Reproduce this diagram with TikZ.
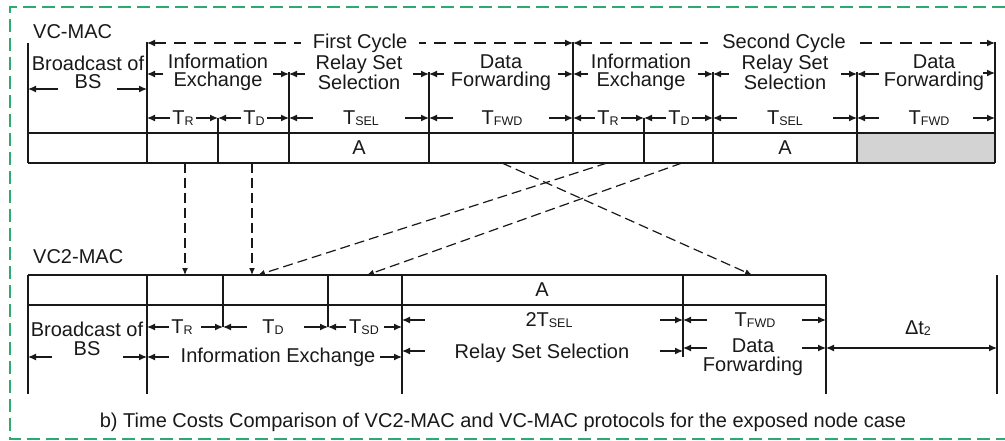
\documentclass[tikz,border=0pt]{standalone}
\usepackage{fontspec}
\setmainfont{Liberation Sans}
\usetikzlibrary{arrows.meta}
\definecolor{framegreen}{RGB}{46,170,110}
\definecolor{ink}{RGB}{25,25,25}
\definecolor{cellgray}{RGB}{211,211,211}
\newcommand\subcap[1]{\raisebox{-1.2pt}{\fontsize{12.5}{12.5}\selectfont #1}}
\newcommand\twoarrows[4]{%
  \draw[dimar] ({#1+#4},#3) -- (#1,#3);
  \draw[dimar] ({#2-#4},#3) -- (#2,#3);}
\begin{document}
\begin{tikzpicture}[x=1pt,y=-1pt,
  every node/.style={font=\fontsize{20}{18.5}\selectfont, text=ink, inner sep=0pt},
  tline/.style={line width=1.5pt, draw=ink},
  dimar/.style={line width=1.2pt, draw=ink, -{Latex[length=8pt,width=7pt]}},
  dimboth/.style={line width=1.2pt, draw=ink, {Latex[length=8pt,width=7pt]}-{Latex[length=8pt,width=7pt]}},
  cyc/.style={line width=1.2pt, draw=ink, dash pattern=on 12pt off 8pt, {Latex[length=8pt,width=7pt]}-{Latex[length=8pt,width=7pt]}},
  link/.style={line width=1.2pt, draw=ink, dash pattern=on 10pt off 5pt, -{Latex[length=7pt,width=6pt]}},
  lab/.style={align=center},
  blank/.style={fill=white, inner xsep=2pt, inner ysep=1pt}
]
\useasboundingbox (0,0) rectangle (1005,441);
\fill[white] (0,0) rectangle (1005,441);
% frame
\draw[framegreen, line width=2pt, dash pattern=on 13pt off 6pt] (1005,7) -- (10,7) -- (10,439) -- (1005,439);

% ===== VC-MAC =====
\node[anchor=west] (vcmac) at (33,32) {VC-MAC};
\fill[cellgray] (857,133) rectangle (995,163);
\draw[tline] (28,133) -- (995,133);
\draw[tline] (28,163) -- (995,163);
\foreach \x/\t in {28/43,147/42,218/118,289/72,429/72,573/42,644/118,713/72,857/72,995/42}
  \draw[tline] (\x,\t) -- (\x,163);
\node (a1) at (359,148) {A};
\node (a2) at (785,148) {A};

% cycles
\draw[cyc] (147,43) -- (573,43);
\node[blank, inner xsep=12pt] (fc) at (360,43) {First Cycle};
\draw[cyc] (573,43) -- (995,43);
\node[blank, inner xsep=14pt] (sc) at (784,43) {Second Cycle};

% phase labels
\node[lab] (bs1) at (88,72.5) {Broadcast of\\BS};
\twoarrows{28}{147}{89}{30}
\node[lab] (ie1) at (218,72.5) {Information\\Exchange};
\twoarrows{147}{289}{74}{16}
\node[lab] (rs1) at (359,72.5) {Relay Set\\Selection};
\twoarrows{289}{429}{74}{16}
\node[lab] (df1) at (501,72.5) {Data\\Forwarding};
\twoarrows{429}{573}{74}{15}
\node[lab] (ie2) at (641,72.5) {Information\\Exchange};
\twoarrows{573}{713}{74}{15}
\node[lab] (rs2) at (785,72.5) {Relay Set\\Selection};
\twoarrows{713}{857}{74}{16}
\node[lab] (df2) at (934,72.5) {Data\\Forwarding};
\draw[dimar] (879,74) -- (857,74);
\draw[dimar] (983,73) -- (995,73);

% durations
\draw[dimboth] (147,118) -- (218,118);
\node[blank] (tr1) at (183,118) {T\subcap{R}};
\draw[dimboth] (218,118) -- (289,118);
\node[blank] (td1) at (254,118) {T\subcap{D}};
\twoarrows{289}{429}{118}{24}
\node (ts1) at (361,118) {T\subcap{SEL}};
\twoarrows{429}{573}{118}{24}
\node (tf1) at (502,118) {T\subcap{FWD}};
\draw[dimboth] (573,118) -- (644,118);
\node[blank] (tr2) at (608,118) {T\subcap{R}};
\draw[dimboth] (644,118) -- (713,118);
\node[blank] (td2) at (679,118) {T\subcap{D}};
\twoarrows{713}{857}{118}{24}
\node (ts2) at (785,118) {T\subcap{SEL}};
\twoarrows{857}{995}{118}{22}
\node (tf2) at (929,118) {T\subcap{FWD}};

% ===== VC2-MAC =====
\node[anchor=west] (vc2mac) at (33,257) {VC2-MAC};
\draw[tline] (28,275) -- (826,275);
\draw[tline] (28,305) -- (826,305);
\foreach \x/\b in {28/394,147/394,223/327,328/327,402/394,683/357,826/394,997/394}
  \draw[tline] (\x,275) -- (\x,\b);
\node (a3) at (542,290) {A};

\node[lab] (bs2) at (87,339) {Broadcast of\\BS};
\twoarrows{28}{147}{357}{24}
\twoarrows{147}{223}{327}{22}
\node (tr3) at (182,327) {T\subcap{R}};
\twoarrows{223}{328}{327}{24}
\node (td3) at (273,327) {T\subcap{D}};
\twoarrows{328}{402}{327}{18}
\node (tsd) at (364,327) {T\subcap{SD}};
\twoarrows{147}{402}{357}{22}
\node (ie3) at (278,357) {Information Exchange};
\twoarrows{402}{683}{320}{23}
\node (ts3) at (549,320) {2T\subcap{SEL}};
\twoarrows{402}{683}{351}{23}
\node (rs3) at (542,353) {Relay Set Selection};
\twoarrows{683}{826}{320}{24}
\node (tf3) at (755,320) {T\subcap{FWD}};
\twoarrows{683}{826}{348}{24}
\node[lab] (df3) at (753,357) {Data\\Forwarding};
\draw[dimboth] (826,348) -- (997,348);
\node (dt) at (918,328) {Δt\subcap{2}};

% ===== links =====
\coordinate (s1) at (185,163); \coordinate (e1) at (185,275);
\coordinate (s2) at (252,163); \coordinate (e2) at (252,275);
\coordinate (s3) at (607,163); \coordinate (e3) at (258,275);
\coordinate (s4) at (682,163); \coordinate (e4) at (367,275);
\coordinate (s5) at (502,163); \coordinate (e5) at (752,275);
\draw[link] (s1) -- (e1);
\draw[link] (s2) -- (e2);
\draw[link] (s3) -- (e3);
\draw[link] (s4) -- (e4);
\draw[link] (s5) -- (e5);

\node (cap) at (503,422) {b) Time Costs Comparison of VC2-MAC and VC-MAC protocols for the exposed node case};
\end{tikzpicture}
\end{document}
